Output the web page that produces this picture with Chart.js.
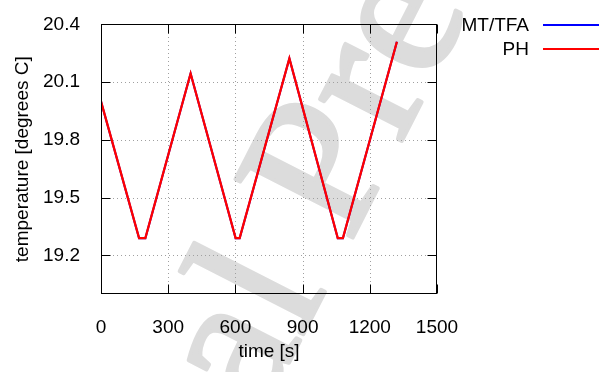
<!DOCTYPE html>
<html>
<head>
<meta charset="utf-8">
<script src="https://cdn.jsdelivr.net/npm/chart.js@4.4.1/dist/chart.umd.min.js"></script>
<style>
  html, body { margin: 0; padding: 0; background: #fff; }
  #wrap { width: 599px; height: 372px; }
</style>
</head>
<body>
<div id="wrap"><canvas id="myChart"></canvas></div>
<script>
'use strict';

// values
const timeValues = [0, 170, 198, 400, 601, 619, 841, 1057, 1080, 1321];
const tempValues = [20.0, 19.29, 19.29, 20.145, 19.29, 19.29, 20.223, 19.29, 19.29, 20.31];
const xTicks = [0, 300, 600, 900, 1200, 1500];
const yTicks = [19.2, 19.5, 19.8, 20.1, 20.4];
const seriesNames = ['MT/TFA', 'PH'];
const seriesColors = ['#0000ff', '#ff0000'];
const fontFamily = '"Liberation Sans", Arial, sans-serif';

function makePoints() {
  let pts = [];
  for (let i = 0; i < timeValues.length; i++) {
    pts.push({ x: timeValues[i], y: tempValues[i] });
  }
  return pts;
}

// gnuplot style frame, dotted grid, inward ticks, legend and the watermark
const gnuplotLook = {
  id: 'gnuplotLook',
  beforeDraw(chart) {
    const ctx = chart.ctx;
    const size = 200;
    ctx.save();
    ctx.fillStyle = '#fff';
    ctx.fillRect(0, 0, chart.width, chart.height);
    // anchor: foot of the "P"
    ctx.translate(363, 217);
    ctx.rotate(-63 * Math.PI / 180);
    ctx.font = size + 'px "Liberation Serif", serif';
    ctx.fillStyle = '#dcdcdc';
    ctx.strokeStyle = '#dcdcdc';
    ctx.lineWidth = 4;
    ctx.lineJoin = 'round';
    ctx.textAlign = 'left';
    ctx.textBaseline = 'alphabetic';
    const lead = ctx.measureText('Journal ').width + 0.15 * size;
    ctx.fillText('Journal Pre-proof', -lead, 0);
    ctx.strokeText('Journal Pre-proof', -lead, 0);
    ctx.restore();
  },
  beforeDatasetsDraw(chart) {
    const ctx = chart.ctx;
    const a = chart.chartArea;
    const xs = chart.scales.x;
    const ys = chart.scales.y;
    ctx.save();
    ctx.strokeStyle = '#a0a0a0';
    ctx.lineWidth = 1;
    ctx.setLineDash([1, 3]);
    ctx.beginPath();
    xTicks.slice(1, -1).forEach(v => {
      const px = Math.round(xs.getPixelForValue(v)) + 0.5;
      ctx.moveTo(px, a.bottom); ctx.lineTo(px, a.top);
    });
    yTicks.slice(0, -1).forEach(v => {
      const py = Math.round(ys.getPixelForValue(v)) + 0.5;
      ctx.moveTo(a.left, py); ctx.lineTo(a.right, py);
    });
    ctx.stroke();
    ctx.restore();
  },
  afterDraw(chart) {
    const ctx = chart.ctx;
    const a = chart.chartArea;
    const xs = chart.scales.x;
    const ys = chart.scales.y;
    const l = Math.round(a.left) + 0.5, r = Math.round(a.right) - 0.5;
    const t = Math.round(a.top) + 0.5, b = Math.round(a.bottom) - 0.5;
    const tl = 9;
    ctx.save();
    ctx.strokeStyle = '#000';
    ctx.lineWidth = 1;
    ctx.beginPath();
    xTicks.forEach(v => {
      const px = Math.round(xs.getPixelForValue(v)) + 0.5;
      ctx.moveTo(px, b); ctx.lineTo(px, b - tl);
      ctx.moveTo(px, t); ctx.lineTo(px, t + tl);
    });
    yTicks.forEach(v => {
      const py = Math.round(ys.getPixelForValue(v)) + 0.5;
      ctx.moveTo(l, py); ctx.lineTo(l + tl, py);
      ctx.moveTo(r, py); ctx.lineTo(r - tl, py);
    });
    ctx.stroke();
    ctx.strokeRect(l, t, r - l, b - t);

    // legend
    ctx.font = '19px ' + fontFamily;
    ctx.textAlign = 'right';
    ctx.textBaseline = 'middle';
    ctx.fillStyle = '#000';
    ctx.lineWidth = 2;
    for (let i = 0; i < seriesNames.length; i++) {
      const y = 25 + i * 24;
      ctx.fillText(seriesNames[i], 529, y + 1);
      ctx.strokeStyle = seriesColors[i];
      ctx.beginPath();
      ctx.moveTo(543, y);
      ctx.lineTo(599, y);
      ctx.stroke();
    }
    ctx.restore();
  }
};

const data = {
  datasets: [
    {
      label: seriesNames[0],
      data: makePoints(),
      borderColor: seriesColors[0],
      borderWidth: 2,
      pointRadius: 0,
      fill: false,
      tension: 0,
      order: 2
    },
    {
      label: seriesNames[1],
      data: makePoints(),
      borderColor: seriesColors[1],
      borderWidth: 2.3,
      pointRadius: 0,
      fill: false,
      tension: 0,
      order: 1
    }
  ]
};

const config = {
  type: 'line',
  data: data,
  options: {
    responsive: true,
    maintainAspectRatio: false,
    animation: false,
    layout: { padding: { top: 14, right: 162, left: 0, bottom: 0 } },
    plugins: {
      legend: { display: false },
      tooltip: { enabled: false }
    },
    scales: {
      x: {
        type: 'linear',
        min: 0,
        max: 1500,
        afterBuildTicks: (scale) => { scale.ticks = xTicks.map(v => ({ value: v })); },
        afterFit: (scale) => { scale.height = 78; },
        ticks: {
          color: '#000',
          padding: 14,
          maxRotation: 0,
          font: { family: fontFamily, size: 19 },
          callback: (v) => String(v)
        },
        grid: { display: false },
        border: { display: false },
        title: {
          display: true,
          text: 'time [s]',
          color: '#000',
          font: { family: fontFamily, size: 19 },
          padding: { top: 0, bottom: 9 }
        }
      },
      y: {
        type: 'linear',
        min: 19.0,
        max: 20.4,
        afterBuildTicks: (scale) => { scale.ticks = yTicks.map(v => ({ value: v })); },
        afterFit: (scale) => { scale.width = 101; },
        ticks: {
          color: '#000',
          padding: 13,
          font: { family: fontFamily, size: 19 },
          callback: (v) => Number(v).toFixed(1)
        },
        grid: { display: false },
        border: { display: false },
        title: {
          display: true,
          text: 'temperature [degrees C]',
          color: '#000',
          font: { family: fontFamily, size: 19 },
          padding: { top: 11, bottom: 0 }
        }
      }
    }
  },
  plugins: [gnuplotLook]
};

const myChart = new Chart(document.getElementById('myChart'), config);
</script>
</body>
</html>
